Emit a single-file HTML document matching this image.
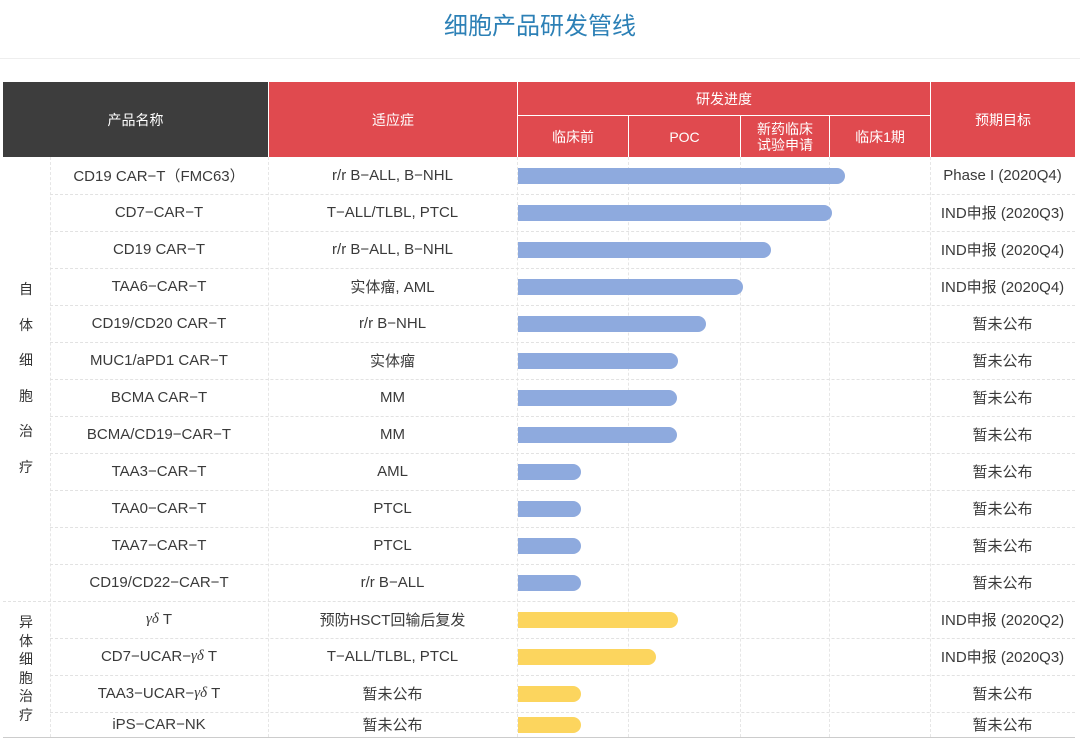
<!DOCTYPE html>
<html><head><meta charset="utf-8"><style>
body{margin:0;width:1080px;height:744px;background:#fff;position:relative;overflow:hidden;font-family:"Liberation Sans","Noto Sans CJK SC",sans-serif;color:#333}
.a{position:absolute}
.t{position:absolute;left:0;width:1080px;top:6px;text-align:center;font-size:24px;color:#2c80b6}
.h{position:absolute;color:#fff;font-size:14px;display:flex;align-items:center;justify-content:center;text-align:center;line-height:16px}
.c{position:absolute;font-size:15px;display:flex;align-items:center;justify-content:center;color:#3a3a3a}
.hl{position:absolute;height:0;border-top:1px dashed #e2e2e2}
.vl{position:absolute;width:0;border-left:1px dashed #e6e6e6}
.bar{position:absolute;height:16px;border-radius:0 8px 8px 0}
.g{position:absolute;font-size:14px;width:20px;text-align:center;color:#333;line-height:35.5px}
i{font-family:"Liberation Serif",serif;margin-right:4px}
</style></head><body>
<div class="t">细胞产品研发管线</div>
<div class="a" style="left:0;top:58px;width:1080px;height:1px;background:#eee"></div>
<div class="h" style="left:3px;top:82px;width:265px;height:75px;background:#3d3d3d">产品名称</div>
<div class="h" style="left:269px;top:82px;width:248px;height:75px;background:#e04a4f">适应症</div>
<div class="h" style="left:518px;top:82px;width:412px;height:33px;background:#e04a4f">研发进度</div>
<div class="h" style="left:518px;top:116px;width:110px;height:41px;background:#e04a4f">临床前</div>
<div class="h" style="left:629px;top:116px;width:111px;height:41px;background:#e04a4f">POC</div>
<div class="h" style="left:741px;top:116px;width:88px;height:41px;background:#e04a4f">新药临床<br>试验申请</div>
<div class="h" style="left:830px;top:116px;width:100px;height:41px;background:#e04a4f">临床1期</div>
<div class="h" style="left:931px;top:82px;width:144px;height:75px;background:#e04a4f">预期目标</div>
<div class="vl" style="left:50px;top:157px;height:580px"></div>
<div class="vl" style="left:268px;top:157px;height:580px"></div>
<div class="vl" style="left:517px;top:157px;height:580px"></div>
<div class="vl" style="left:628px;top:157px;height:580px"></div>
<div class="vl" style="left:740px;top:157px;height:580px"></div>
<div class="vl" style="left:829px;top:157px;height:580px"></div>
<div class="vl" style="left:930px;top:157px;height:580px"></div>
<div class="a" style="left:3px;top:737px;width:1072px;height:1px;background:#ccc"></div>
<div class="hl" style="left:3px;top:601px;width:1072px"></div>
<div class="g" style="left:16px;top:272px">自<br>体<br>细<br>胞<br>治<br>疗</div>
<div class="g" style="left:16px;top:613px;line-height:18.5px">异<br>体<br>细<br>胞<br>治<br>疗</div>
<div id="rows"></div>
<script>
var d=[["CD19 CAR−T（FMC63）","r/r B−ALL, B−NHL",845,"Phase I (2020Q4)",0],
["CD7−CAR−T","T−ALL/TLBL, PTCL",832,"IND申报 (2020Q3)",0],
["CD19 CAR−T","r/r B−ALL, B−NHL",771,"IND申报 (2020Q4)",0],
["TAA6−CAR−T","实体瘤, AML",743,"IND申报 (2020Q4)",0],
["CD19/CD20 CAR−T","r/r B−NHL",706,"暂未公布",0],
["MUC1/aPD1 CAR−T","实体瘤",678,"暂未公布",0],
["BCMA CAR−T","MM",677,"暂未公布",0],
["BCMA/CD19−CAR−T","MM",677,"暂未公布",0],
["TAA3−CAR−T","AML",581,"暂未公布",0],
["TAA0−CAR−T","PTCL",581,"暂未公布",0],
["TAA7−CAR−T","PTCL",581,"暂未公布",0],
["CD19/CD22−CAR−T","r/r B−ALL",581,"暂未公布",0],
["<i>γδ</i>T","预防HSCT回输后复发",678,"IND申报 (2020Q2)",1],
["CD7−UCAR−<i>γδ</i>T","T−ALL/TLBL, PTCL",656,"IND申报 (2020Q3)",1],
["TAA3−UCAR−<i>γδ</i>T","暂未公布",581,"暂未公布",1],
["iPS−CAR−NK","暂未公布",581,"暂未公布",1]];
var h="";
d.forEach(function(r,i){var y=157+i*37,hh=i==15?25:37;
h+='<div class="c" style="left:50px;top:'+y+'px;width:218px;height:'+hh+'px">'+r[0]+'</div>';
h+='<div class="c" style="left:268px;top:'+y+'px;width:249px;height:'+hh+'px">'+r[1]+'</div>';
h+='<div class="c" style="left:930px;top:'+y+'px;width:145px;height:'+hh+'px">'+r[3]+'</div>';
h+='<div class="bar" style="left:518px;top:'+(y+hh/2-8)+'px;width:'+(r[2]-518)+'px;background:'+(r[4]?'#fcd55e':'#8eaade')+'"></div>';
if(i<15&&i!=11)h+='<div class="hl" style="left:50px;top:'+(y+37)+'px;width:1025px"></div>';});
document.getElementById("rows").innerHTML=h;
</script>
</body></html>
